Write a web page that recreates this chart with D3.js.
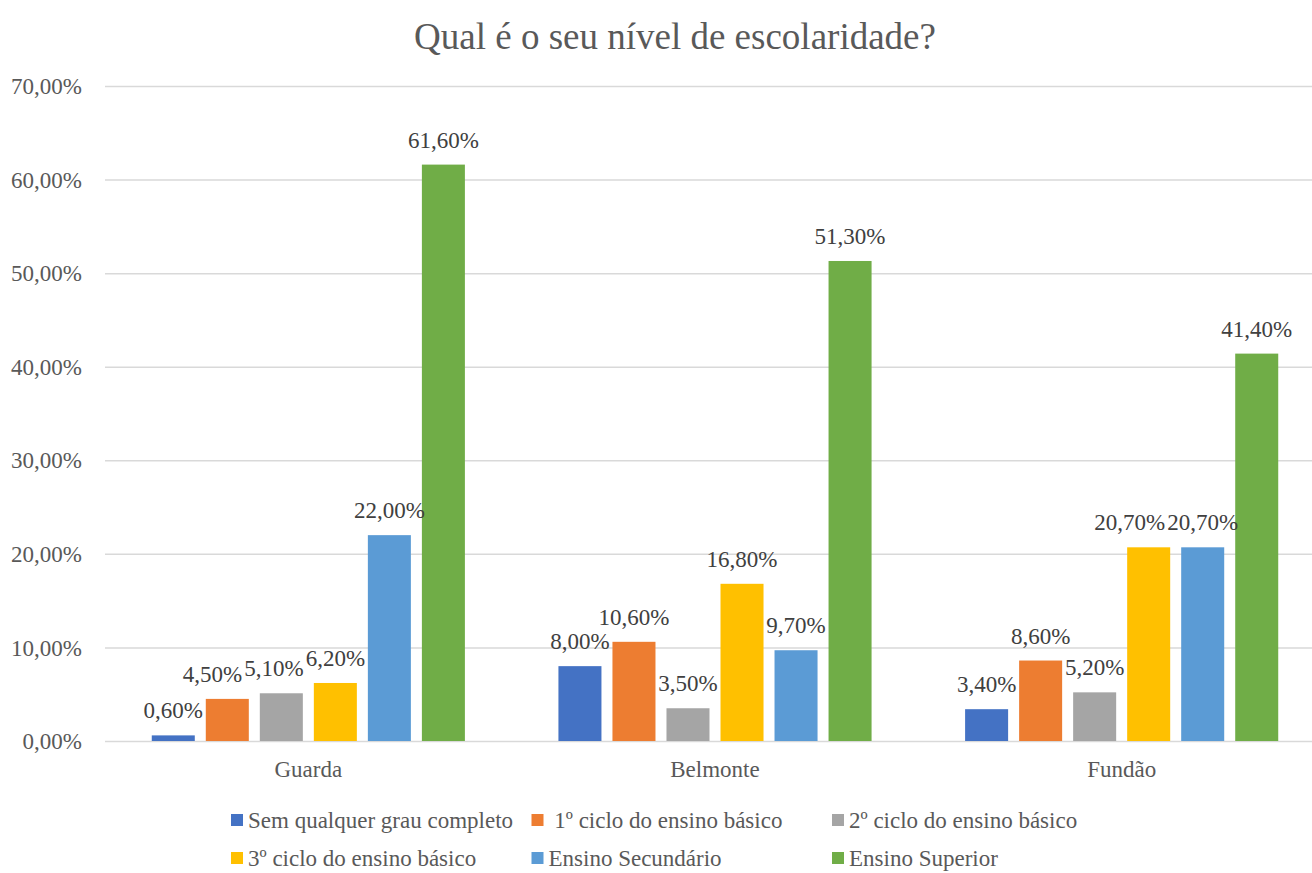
<!DOCTYPE html>
<html>
<head>
<meta charset="utf-8">
<script src="https://cdn.jsdelivr.net/npm/d3@7"></script>
<style>
  html, body { margin: 0; padding: 0; background: #fff; }
  svg { display: block; }
  svg text { font-family: "Liberation Serif", "DejaVu Serif", "Times New Roman", Times, serif; }
</style>
</head>
<body>
<svg id="chart" width="1312" height="873"></svg>
<script>
const title = "Qual é o seu nível de escolaridade?";
const categories = ["Guarda", "Belmonte", "Fundão"];
const seriesNames = [
  "Sem qualquer grau completo",
  " 1º ciclo do ensino básico",
  "2º ciclo do ensino básico",
  "3º ciclo do ensino básico",
  "Ensino Secundário",
  "Ensino Superior"
];
const seriesColors = ["#4472C4", "#ED7D31", "#A5A5A5", "#FFC000", "#5B9BD5", "#70AD47"];
// values in percent, one array per series (Guarda, Belmonte, Fundão)
const semGrau     = [0.6, 8.0, 3.4];
const ciclo1      = [4.5, 10.6, 8.6];
const ciclo2      = [5.1, 3.5, 5.2];
const ciclo3      = [6.2, 16.8, 20.7];
const secundario  = [22.0, 9.7, 20.7];
const superior    = [61.6, 51.3, 41.4];
const seriesValues = [semGrau, ciclo1, ciclo2, ciclo3, secundario, superior];
const yTicks = [0, 10, 20, 30, 40, 50, 60, 70];

const fmt = v => v.toFixed(2).replace(".", ",") + "%";
const textColor = "#595959";
const fontSize = 23;
const FONT = "'Liberation Serif', 'DejaVu Serif', 'Times New Roman', serif";

const svg = d3.select("#chart");
const plot = { left: 105, right: 1325, top: 86, bottom: 741 };

const x0 = d3.scaleBand().domain(categories).range([plot.left, plot.right]).paddingInner(0).paddingOuter(0);
const x1 = d3.scaleBand().domain(d3.range(seriesNames.length)).range([0, x0.bandwidth()])
  .paddingInner(0.2037).paddingOuter(0.8657);
const y = d3.scaleLinear().domain([0, 70]).range([plot.bottom, plot.top]);

// title
svg.append("text")
  .attr("x", 675).attr("y", 49)
  .attr("text-anchor", "middle")
  .attr("font-family", FONT)
  .attr("font-size", 37)
  .attr("fill", textColor)
  .text(title);

// gridlines + tick labels
const yAxis = d3.axisLeft(y).tickValues(yTicks).tickSize(-(plot.right - plot.left)).tickFormat(d => fmt(d)).tickPadding(23);
const gAxis = svg.append("g").attr("transform", `translate(${plot.left},0)`).call(yAxis)
  .attr("font-family", FONT);
gAxis.select(".domain").remove();
gAxis.selectAll(".tick line").attr("stroke", "#d9d9d9").attr("stroke-width", 1.5);
gAxis.selectAll(".tick text")
  .attr("font-family", FONT)
  .attr("font-size", fontSize).attr("fill", textColor).attr("dy", "0.33em");

// bars
const rows = [];
categories.forEach((c, ci) => {
  seriesValues.forEach((vals, si) => {
    rows.push({ c, ci, si, v: vals[ci] });
  });
});

svg.append("g").selectAll("rect").data(rows).join("rect")
  .attr("x", d => x0(d.c) + x1(d.si))
  .attr("y", d => y(d.v))
  .attr("width", x1.bandwidth())
  .attr("height", d => y(0) - y(d.v))
  .attr("fill", d => seriesColors[d.si]);

// data labels with simple horizontal de-overlap
const gLab = svg.append("g");
const labels = gLab.selectAll("text").data(rows).join("text")
  .attr("x", d => x0(d.c) + x1(d.si) + x1.bandwidth() / 2)
  .attr("y", d => y(d.v) - 17)
  .attr("text-anchor", "middle")
  .attr("font-family", FONT)
  .attr("font-size", fontSize)
  .attr("fill", "#404040")
  .text(d => fmt(d.v));

labels.each(function (d) {
  const b = this.getBBox();
  d.bx = b.x; d.by = b.y; d.bw = b.width; d.bh = b.height; d.dx = 0;
});
categories.forEach(c => {
  const grp = rows.filter(r => r.c === c).sort((a, b) => b.si - a.si);
  for (let i = 1; i < grp.length; i++) {
    const a = grp[i], b = grp[i - 1];
    const aR = a.bx + a.dx + a.bw, bL = b.bx + b.dx;
    const vOverlap = !(a.by + a.bh * 0.75 < b.by + b.bh * 0.2 || b.by + b.bh * 0.75 < a.by + a.bh * 0.2);
    if (vOverlap && aR > bL - 2) a.dx -= (aR - bL + 2);
  }
});
labels.attr("transform", d => `translate(${d.dx},0)`);

// category labels
svg.append("g").selectAll("text").data(categories).join("text")
  .attr("x", d => x0(d) + x0.bandwidth() / 2)
  .attr("y", 777)
  .attr("text-anchor", "middle")
  .attr("font-family", FONT)
  .attr("font-size", fontSize)
  .attr("fill", textColor)
  .text(d => d);

// legend
const legendCols = 3, legendLeft = 231, legendColW = 300.5, legendTop = 820, legendRowH = 38;
const leg = svg.append("g").selectAll("g").data(seriesNames).join("g")
  .attr("transform", (d, i) => `translate(${legendLeft + (i % legendCols) * legendColW},${legendTop + Math.floor(i / legendCols) * legendRowH})`);
leg.append("rect").attr("x", 0).attr("y", -6).attr("width", 12).attr("height", 12)
  .attr("fill", (d, i) => seriesColors[i]);
leg.append("text").attr("x", 17).attr("y", 8)
  .attr("font-family", FONT)
  .attr("font-size", fontSize).attr("fill", textColor)
  .attr("xml:space", "preserve").style("white-space", "pre")
  .text(d => d);
</script>
</body>
</html>
